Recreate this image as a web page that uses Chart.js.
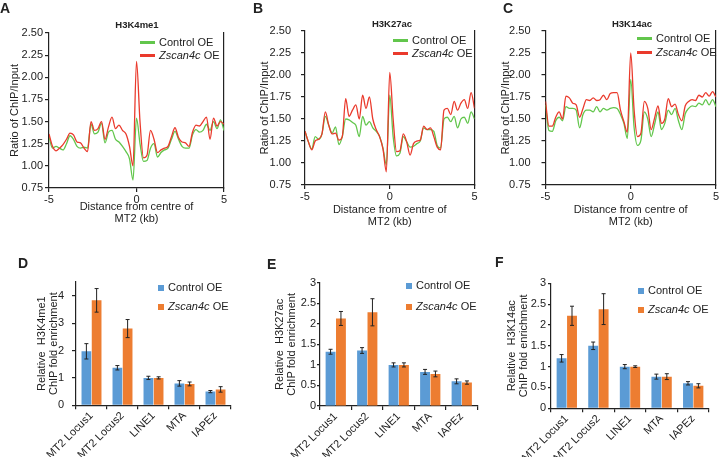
<!DOCTYPE html>
<html>
<head>
<meta charset="utf-8">
<script src="https://cdn.jsdelivr.net/npm/chart.js@4.4.1/dist/chart.umd.min.js"></script>
<style>
  body { margin: 0; background: #fff; width: 720px; height: 457px; position: relative; overflow: hidden;
         font-family: "Liberation Sans", Arial, sans-serif; color: #222; }
  canvas { position: absolute; }
  .letter { position: absolute; font-weight: bold; font-size: 14px; line-height: 14px; }
  .ttl { position: absolute; width: 100px; text-align: center; font-weight: bold; font-size: 9.5px; line-height: 9.5px; }
  .lg { position: absolute; display: flex; align-items: center; height: 11px; font-size: 11px; line-height: 11px; white-space: nowrap; }
  .lg .ln { display: inline-block; width: 15px; height: 3px; margin-right: 4px; }
  .lg .sq { display: inline-block; width: 6px; height: 6px; margin-right: 4px; }
</style>
</head>
<body>
<canvas id="cA" width="240" height="230" style="left:0;top:0"></canvas>
<canvas id="cB" width="240" height="230" style="left:240px;top:0"></canvas>
<canvas id="cC" width="240" height="230" style="left:480px;top:0"></canvas>
<canvas id="cD" width="240" height="227" style="left:0;top:230px"></canvas>
<canvas id="cE" width="240" height="227" style="left:240px;top:230px"></canvas>
<canvas id="cF" width="240" height="227" style="left:480px;top:230px"></canvas>

<div class="letter" style="left:0;top:1px">A</div>
<div class="letter" style="left:253px;top:1px">B</div>
<div class="letter" style="left:503px;top:1px">C</div>
<div class="letter" style="left:18px;top:256px">D</div>
<div class="letter" style="left:267px;top:257px">E</div>
<div class="letter" style="left:495px;top:255px">F</div>

<div class="ttl" style="left:87px;top:20px">H3K4me1</div>
<div class="ttl" style="left:342px;top:18.5px">H3K27ac</div>
<div class="ttl" style="left:582px;top:18.5px">H3K14ac</div>

<div class="lg" style="left:140px;top:36.5px"><span class="ln" style="background:#62c64c"></span><span>Control OE</span></div>
<div class="lg" style="left:140px;top:49.5px"><span class="ln" style="background:#ea3a2c"></span><span><i>Zscan4c</i> OE</span></div>
<div class="lg" style="left:393px;top:34.5px"><span class="ln" style="background:#62c64c"></span><span>Control OE</span></div>
<div class="lg" style="left:393px;top:47.5px"><span class="ln" style="background:#ea3a2c"></span><span><i>Zscan4c</i> OE</span></div>
<div class="lg" style="left:637px;top:32.5px"><span class="ln" style="background:#62c64c"></span><span>Control OE</span></div>
<div class="lg" style="left:637px;top:46.5px"><span class="ln" style="background:#ea3a2c"></span><span><i>Zscan4c</i> OE</span></div>

<div class="lg" style="left:158px;top:282px"><span class="sq" style="background:#5b9bd5"></span><span>Control OE</span></div>
<div class="lg" style="left:158px;top:301px"><span class="sq" style="background:#ed7d31"></span><span><i>Zscan4c</i> OE</span></div>
<div class="lg" style="left:406px;top:280px"><span class="sq" style="background:#5b9bd5"></span><span>Control OE</span></div>
<div class="lg" style="left:406px;top:301px"><span class="sq" style="background:#ed7d31"></span><span><i>Zscan4c</i> OE</span></div>
<div class="lg" style="left:638px;top:285px"><span class="sq" style="background:#5b9bd5"></span><span>Control OE</span></div>
<div class="lg" style="left:638px;top:304px"><span class="sq" style="background:#ed7d31"></span><span><i>Zscan4c</i> OE</span></div>

<script>
// distance from MT2 centre (kb)
const xs = [-5, -4.8, -4.6, -4.4, -4.2, -4, -3.8, -3.6, -3.4, -3.2, -3, -2.8, -2.6, -2.4, -2.2, -2,
  -1.8, -1.6, -1.4, -1.2, -1, -0.8, -0.6, -0.4, -0.2, 0, 0.2, 0.4, 0.6, 0.8, 1, 1.2, 1.4, 1.6, 1.8, 2,
  2.2, 2.4, 2.6, 2.8, 3, 3.2, 3.4, 3.6, 3.8, 4, 4.2, 4.4, 4.6, 4.8, 5];

// H3K4me1 profile
const k4me1Zscan = [1.36, 1.22, 1.17, 1.2, 1.24, 1.3, 1.37, 1.35, 1.27, 1.26, 1.2, 1.16, 1.5, 1.4, 1.42, 1.5,
  1.3, 1.44, 1.55, 1.42, 1.46, 1.4, 1.36, 1.22, 1.0, 2.18, 1.5, 1.09, 1.12, 1.4, 1.3, 1.15, 1.18, 1.2, 1.22, 1.33,
  1.43, 1.32, 1.27, 1.26, 1.22, 1.38, 1.46, 1.45, 1.5, 1.55, 1.3, 1.54, 1.45, 1.5, 1.47];
const k4me1Ctrl = [1.33, 1.2, 1.22, 1.2, 1.18, 1.25, 1.34, 1.3, 1.22, 1.2, 1.21, 1.2, 1.47, 1.36, 1.38, 1.48,
  1.26, 1.38, 1.4, 1.3, 1.27, 1.22, 1.16, 1.08, 0.84, 1.54, 1.25, 1.05, 1.06, 1.2, 1.25, 1.1, 1.15, 1.18, 1.2, 1.3,
  1.39, 1.3, 1.22, 1.2, 1.2, 1.35, 1.41, 1.38, 1.4, 1.47, 1.4, 1.5, 1.42, 1.52, 1.4];

// H3K27ac profile
const k27acZscan = [1.36, 1.24, 1.15, 1.25, 1.27, 1.33, 1.58, 1.43, 1.33, 1.34, 1.26, 1.3, 1.73, 1.53, 1.6, 1.66,
  1.5, 1.77, 1.62, 1.75, 1.5, 1.38, 1.3, 1.16, 0.9, 2.03, 1.5, 1.13, 1.14, 1.33, 1.24, 1.09, 1.22, 1.25, 1.26, 1.42,
  1.38, 1.4, 1.3, 1.18, 1.15, 1.6, 1.62, 1.55, 1.7, 1.6, 1.68, 1.72, 1.62, 1.8, 1.62];
const k27acCtrl = [1.36, 1.24, 1.16, 1.3, 1.27, 1.33, 1.53, 1.43, 1.34, 1.41, 1.21, 1.3, 1.5, 1.49, 1.46, 1.43,
  1.3, 1.53, 1.43, 1.47, 1.4, 1.36, 1.3, 1.17, 0.98, 1.77, 1.3, 1.08, 1.11, 1.3, 1.24, 1.18, 1.19, 1.22, 1.25, 1.4,
  1.38, 1.38, 1.36, 1.2, 1.17, 1.5, 1.52, 1.47, 1.53, 1.4, 1.5, 1.52, 1.45, 1.58, 1.5];

// H3K14ac profile
const k14acZscan = [1.7, 1.42, 1.42, 1.52, 1.58, 1.5, 1.76, 1.74, 1.68, 1.66, 1.52, 1.62, 1.72, 1.71, 1.74, 1.71,
  1.72, 1.77, 1.72, 1.79, 1.8, 1.8, 1.6, 1.47, 1.35, 2.25, 1.6, 1.3, 1.34, 1.7, 1.62, 1.38, 1.51, 1.65, 1.45, 1.5,
  1.73, 1.64, 1.67, 1.55, 1.48, 1.65, 1.7, 1.72, 1.71, 1.77, 1.75, 1.8, 1.76, 1.81, 1.75];
const k14acCtrl = [1.66, 1.37, 1.36, 1.48, 1.52, 1.48, 1.64, 1.62, 1.62, 1.6, 1.4, 1.55, 1.6, 1.6, 1.58, 1.64,
  1.58, 1.62, 1.6, 1.62, 1.63, 1.62, 1.55, 1.45, 1.28, 1.95, 1.4, 1.2, 1.26, 1.58, 1.5, 1.3, 1.44, 1.58, 1.38, 1.45,
  1.6, 1.55, 1.62, 1.48, 1.38, 1.56, 1.62, 1.65, 1.64, 1.68, 1.66, 1.72, 1.66, 1.72, 1.64];

// ChIP-qPCR
const loci = ['MT2 Locus1', 'MT2 Locus2', 'LINE1', 'MTA', 'IAPEz'];
const dCtrl = [1.97, 1.37, 1.0, 0.8, 0.5];
const dCtrlErr = [0.28, 0.08, 0.06, 0.1, 0.04];
const dZscan = [3.83, 2.8, 1.0, 0.78, 0.58];
const dZscanErr = [0.43, 0.33, 0.04, 0.07, 0.1];
const eCtrl = [1.32, 1.35, 1.0, 0.83, 0.6];
const eCtrlErr = [0.06, 0.07, 0.05, 0.06, 0.06];
const eZscan = [2.13, 2.28, 1.0, 0.78, 0.57];
const eZscanErr = [0.17, 0.33, 0.05, 0.07, 0.04];
const fCtrl = [1.2, 1.5, 1.0, 0.76, 0.6];
const fCtrlErr = [0.09, 0.09, 0.05, 0.06, 0.04];
const fZscan = [2.22, 2.38, 1.0, 0.76, 0.54];
const fZscanErr = [0.23, 0.37, 0.02, 0.07, 0.05];

const FONT = '"Liberation Sans", Arial, sans-serif';
const INK = '#222';
const GREEN = '#62c64c', RED = '#ea3a2c', BLUE = '#5b9bd5', ORANGE = '#ed7d31';

function axisFont() { return { family: FONT, size: 11 }; }

// box = canvas [left, top, w, h] in page px, plot = [L, T, R, B] in page px
function lineChart(id, box, plot, ctrl, zscan, opt) {
  const [cx, cy, cw, ch] = box;
  const [L, T, R, B] = plot;
  return new Chart(document.getElementById(id), {
    type: 'line',
    data: {
      datasets: [
        { label: 'Control OE', data: xs.map((x, i) => ({ x: x, y: ctrl[i] })), borderColor: GREEN, order: 1 },
        { label: 'Zscan4c OE', data: xs.map((x, i) => ({ x: x, y: zscan[i] })), borderColor: RED, order: 0 }
      ]
    },
    options: {
      responsive: false,
      animation: false,
      layout: { padding: { left: 0, top: T - cy, right: cx + cw - R, bottom: 0 } },
      elements: {
        point: { radius: 0 },
        line: { borderWidth: 1.3, cubicInterpolationMode: 'monotone', fill: false }
      },
      plugins: { legend: { display: false }, tooltip: { enabled: false } },
      scales: {
        x: {
          type: 'linear', min: -5, max: 5,
          ticks: { stepSize: 5, color: INK, font: axisFont(), padding: 1 },
          grid: { drawOnChartArea: false, tickLength: 4, color: INK, lineWidth: 1.2 },
          border: { color: INK, width: 1.2 },
          title: { display: true, text: ['Distance from centre of', 'MT2 (kb)'], color: INK,
                   font: { family: FONT, size: 11, lineHeight: 1.1 }, padding: { top: 0, bottom: opt.xTitleBottom } },
          afterFit: s => { s.height = cy + ch - B; }
        },
        y: {
          min: 0.75, max: 2.5,
          ticks: { stepSize: 0.25, color: INK, font: axisFont(), padding: opt.tickPad, callback: v => v.toFixed(2) },
          grid: { drawOnChartArea: false, tickLength: 4, color: INK, lineWidth: 1.2 },
          border: { color: INK, width: 1.2 },
          title: { display: true, text: 'Ratio of ChIP/Input', color: INK,
                   font: { family: FONT, size: 11, lineHeight: 1.1 }, padding: { top: opt.yTitlePad, bottom: 0 } },
          afterFit: s => { s.width = L - cx; }
        },
        yr: {
          position: 'right', min: 0, max: 1,
          ticks: { display: false },
          grid: { display: false, drawTicks: false },
          border: { display: true, color: INK, width: 1.2 },
          afterFit: s => { s.width = 0; }
        }
      }
    }
  });
}

const errorBars = {
  id: 'errorBars',
  afterDatasetsDraw(chart) {
    const ctx = chart.ctx;
    const y = chart.scales.y;
    chart.data.datasets.forEach((ds, di) => {
      chart.getDatasetMeta(di).data.forEach((bar, i) => {
        const top = y.getPixelForValue(ds.data[i] + ds.errors[i]);
        const bot = y.getPixelForValue(ds.data[i] - ds.errors[i]);
        ctx.save();
        ctx.strokeStyle = INK;
        ctx.lineWidth = 1;
        ctx.beginPath();
        ctx.moveTo(bar.x, top); ctx.lineTo(bar.x, bot);
        ctx.moveTo(bar.x - 2, top); ctx.lineTo(bar.x + 2, top);
        ctx.moveTo(bar.x - 2, bot); ctx.lineTo(bar.x + 2, bot);
        ctx.stroke();
        ctx.restore();
      });
    });
  }
};

function barChart(id, box, plot, ctrl, ctrlErr, zscan, zscanErr, opt) {
  const [cx, cy, cw, ch] = box;
  const [L, T, R, B] = plot;
  return new Chart(document.getElementById(id), {
    type: 'bar',
    data: {
      labels: loci,
      datasets: [
        { label: 'Control OE', data: ctrl, errors: ctrlErr, backgroundColor: BLUE },
        { label: 'Zscan4c OE', data: zscan, errors: zscanErr, backgroundColor: ORANGE }
      ]
    },
    options: {
      responsive: false,
      animation: false,
      layout: { padding: { left: 0, top: T - cy, right: cx + cw - R, bottom: 0 } },
      datasets: { bar: { barPercentage: 0.95, categoryPercentage: 0.66, borderWidth: 0 } },
      plugins: { legend: { display: false }, tooltip: { enabled: false } },
      scales: {
        x: {
          ticks: { color: INK, font: axisFont(), minRotation: 45, maxRotation: 45, autoSkip: false, padding: 0 },
          grid: { offset: true, drawOnChartArea: false, tickLength: 4, color: INK, lineWidth: 1.2 },
          border: { color: INK, width: 1.2 },
          afterFit: s => { s.height = cy + ch - B; }
        },
        y: {
          min: 0, max: opt.max,
          ticks: { stepSize: opt.step, color: INK, font: axisFont(), padding: opt.tickPad, callback: v => String(v) },
          grid: { drawOnChartArea: false, tickLength: opt.tickLen, color: INK, lineWidth: 1.2 },
          border: { color: INK, width: 1.2 },
          title: { display: true, text: [opt.mark, 'ChIP fold enrichment'], color: INK,
                   font: { family: FONT, size: 11, lineHeight: 1.1 }, padding: { top: opt.yTitlePad, bottom: 0 } },
          afterBuildTicks: s => { s.ticks = s.ticks.filter(t => t.value <= opt.lastTick); },
          afterFit: s => { s.width = L - cx; }
        }
      }
    },
    plugins: [errorBars]
  });
}

lineChart('cA', [0, 0, 240, 230], [49, 33, 224, 188], k4me1Ctrl, k4me1Zscan,
  { tickPad: 2, yTitlePad: 8.5, xTitleBottom: 5 });
lineChart('cB', [240, 0, 240, 230], [305, 31, 474.5, 185], k27acCtrl, k27acZscan,
  { tickPad: 10, yTitlePad: 19, xTitleBottom: 2 });
lineChart('cC', [480, 0, 240, 230], [545.5, 31, 716.5, 185], k14acCtrl, k14acZscan,
  { tickPad: 11, yTitlePad: 19.5, xTitleBottom: 2 });

barChart('cD', [0, 230, 240, 227], [76, 282, 231, 405.3], dCtrl, dCtrlErr, dZscan, dZscanErr,
  { max: 4.5, step: 1, lastTick: 4, tickPad: 8, tickLen: 4, yTitlePad: 35.5, mark: 'Relative  H3K4me1' });
barChart('cE', [240, 230, 240, 227], [320, 282.7, 477.5, 406], eCtrl, eCtrlErr, eZscan, eZscanErr,
  { max: 3, step: 0.5, lastTick: 3, tickPad: 1, tickLen: 3, yTitlePad: 34, mark: 'Relative  H3K27ac' });
barChart('cF', [480, 230, 240, 227], [551, 283.3, 709, 408.3], fCtrl, fCtrlErr, fZscan, fZscanErr,
  { max: 3, step: 0.5, lastTick: 3, tickPad: 2, tickLen: 3, yTitlePad: 26, mark: 'Relative  H3K14ac' });
</script>
</body>
</html>
